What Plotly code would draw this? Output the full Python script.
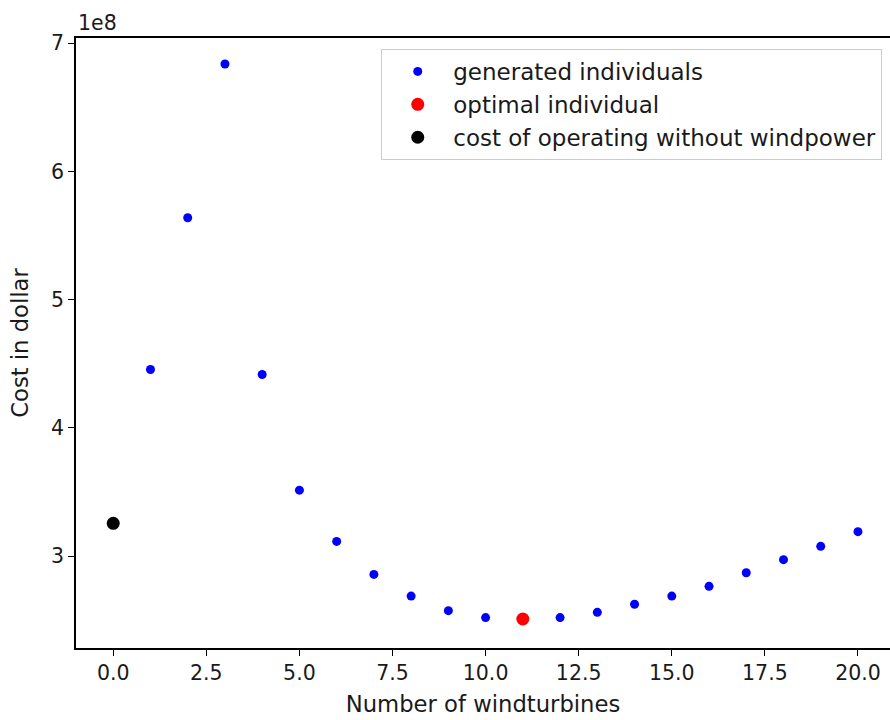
import plotly.graph_objects as go

turbines = list(range(0, 21))
cost_generated = [None, 4.455e8, 5.638e8, 6.837e8, 4.416e8, 3.514e8, 3.114e8, 2.857e8,
                  2.688e8, 2.574e8, 2.520e8, 2.509e8, 2.520e8, 2.561e8, 2.624e8, 2.688e8,
                  2.764e8, 2.870e8, 2.972e8, 3.076e8, 3.190e8]
gen_x = turbines[1:]
gen_y = cost_generated[1:]
opt_x = [11]
opt_y = [2.509e8]
base_x = [0]
base_y = [3.255e8]

x_tickvals = [0, 2.5, 5, 7.5, 10, 12.5, 15, 17.5, 20]
x_ticktext = ["0.0", "2.5", "5.0", "7.5", "10.0", "12.5", "15.0", "17.5", "20.0"]
y_tickvals = [3e8, 4e8, 5e8, 6e8, 7e8]
y_ticktext = ["3", "4", "5", "6", "7"]

FONT = "DejaVu Sans"
TXT = "#1a1a1a"

fig = go.Figure()
fig.add_trace(go.Scatter(x=gen_x, y=gen_y, mode="markers", name="generated individuals",
                         marker=dict(color="blue", size=9)))
fig.add_trace(go.Scatter(x=opt_x, y=opt_y, mode="markers", name="optimal individual",
                         marker=dict(color="red", size=13)))
fig.add_trace(go.Scatter(x=base_x, y=base_y, mode="markers", name="cost of operating without windpower",
                         marker=dict(color="black", size=13)))

fig.update_layout(
    width=890, height=720,
    margin=dict(l=76, r=0, t=38, b=72),
    plot_bgcolor="white", paper_bgcolor="white",
    font=dict(family=FONT, size=20.5, color=TXT),
    showlegend=True,
    legend=dict(x=0.375, y=0.982, xanchor="left", yanchor="top",
                bgcolor="rgba(255,255,255,0.8)", bordercolor="#cccccc", borderwidth=1,
                font=dict(family=FONT, size=23, color=TXT), itemwidth=61,
                tracegroupgap=0),
    xaxis=dict(range=[-1, 20.86], tickvals=x_tickvals, ticktext=x_ticktext,
               tickfont=dict(size=20.5),
               showgrid=False, zeroline=False, showline=True, linecolor="black", linewidth=1.5,
               mirror=True, ticks="outside", ticklen=6, tickcolor="black",
               title=dict(text="Number of windturbines", standoff=12,
                          font=dict(size=22.7, color=TXT))),
    yaxis=dict(range=[2.283e8, 7.04e8], tickvals=y_tickvals, ticktext=y_ticktext,
               tickfont=dict(size=20.5),
               showgrid=False, zeroline=False, showline=True, linecolor="black", linewidth=1.5,
               ticks="outside", ticklen=6, tickcolor="black",
               title=dict(text="Cost in dollar", standoff=16,
                          font=dict(size=22.7, color=TXT))),
)
fig.add_annotation(text="1e8", xref="paper", yref="paper", x=0, y=1, xanchor="left",
                   yanchor="bottom", showarrow=False, font=dict(family=FONT, size=20.5, color=TXT),
                   yshift=1)

fig.write_html("out.html")
